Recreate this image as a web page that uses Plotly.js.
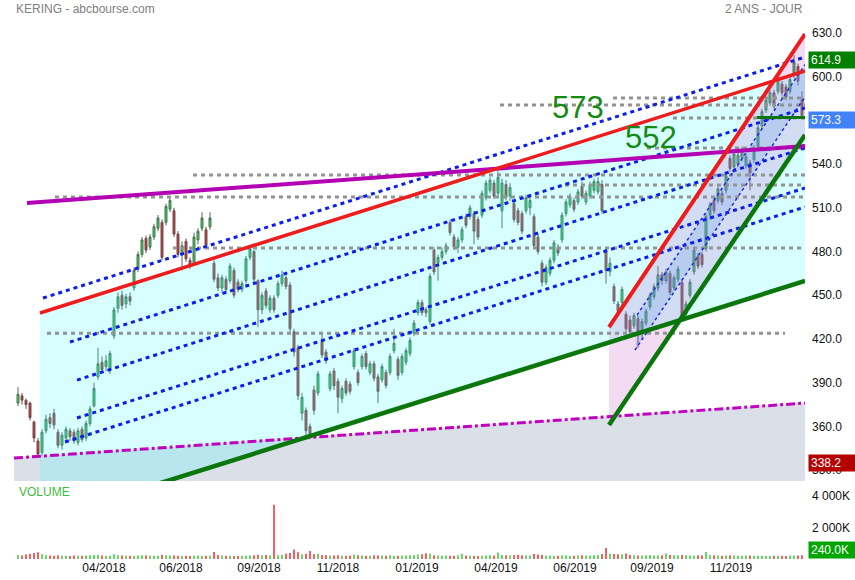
<!DOCTYPE html>
<html><head><meta charset="utf-8">
<script src="https://cdn.plot.ly/plotly-3.0.1.min.js"></script>
<style>html,body{margin:0;padding:0;background:#fff}#chart{width:855px;height:580px}</style>
</head><body><div id="chart"></div>
<script>
// ---- Data (bar index = trading-session sample) ----
const opens = [
376,381,378,376,363,350,342,357,366,369,
356,347,352,357,356,349,358,352,362,374,
394,404,401,399,422,441,450,444,449,455,
468,478,489,483,490,496,500,500,509,508,
492,478,487,474,472,488,496,495,497,472,
462,455,461,460,467,459,454,460,476,480,
460,440,453,440,448,450,458,462,457,425,
414,369,371,360,385,383,419,411,386,398,
391,379,391,389,401,397,401,410,397,403,
394,392,397,397,412,406,397,404,410,424,
438,445,440,432,481,472,476,480,500,490,
483,488,504,504,506,502,505,517,522,527,
520,508,526,518,513,508,506,508,510,504,
490,472,459,465,474,483,488,506,512,515,
514,525,514,518,522,521,526,480,466,456,
444,445,437,433,429,434,424,431,442,449,
455,464,460,465,455,461,459,437,450,466,
477,478,482,505,515,515,520,522,544,538,
540,544,539,541,543,552,566,577,582,589,
590,595,593,590,601,607,584];
const highs = [
387,383,379,377,364,352,358,368,369,372,
358,356,360,359,358,359,360,364,374,390,
414,408,409,412,442,452,453,451,452,469,
480,490,491,492,499,505,502,513,517,510,
494,487,489,476,493,496,507,497,507,474,
465,464,463,472,469,461,460,477,484,481,
461,452,455,450,450,460,467,466,459,427,
416,383,373,362,388,398,425,413,398,400,
393,388,393,391,414,399,410,412,405,405,
396,403,399,410,427,408,410,414,421,433,
447,447,442,465,483,478,483,486,502,492,
490,497,506,512,508,504,522,529,531,529,
535,530,529,527,515,510,508,519,518,506,
492,474,471,476,488,485,507,516,520,517,
523,528,522,528,530,531,529,482,476,458,
446,456,439,436,438,436,434,441,452,458,
470,466,468,467,464,470,461,446,461,483,
479,480,506,514,517,525,522,534,546,549,
548,552,547,543,553,567,578,586,591,591,
600,597,595,600,614.9,609,590];
const lows = [
374,375,372,364,349,338.2,339,355,359,358,
345,344,349,350,348,347,349,350,360,373,
392,397,398,396,420,438,440,441,443,453,
466,476,479,481,488,494,474,498,507,490,
476,467,473,468,470,485,494,482,495,459,
453,452,452,458,448,452,452,458,474,459,
428,437,441,438,438,448,456,454,425,408,
378,364,354,352,368,381,407,403,384,385,
369,376,381,382,399,388,399,399,395,391,
376,390,386,395,410,392,395,402,408,422,
436,436,435,430,464,460,474,478,491,481,
479,486,496,502,485,488,503,515,520,516,
518,496,515,515,500,498,492,506,505,482,
478,456,457,463,472,477,486,504,510,507,
512,516,512,516,520,519,506,458,463,444,
437,443,425,423,427,414,420,429,440,447,
453,457,458,450,453,459,433,435,448,464,
468,469,480,502,506,513,512,520,535,536,
538,542,537,522,541,550,564,575,580,578,
588,587,584,588,599,594,571];
const closes = [
382,378,375,366,352,341,356,365,362,361,
347,354,358,353,350,357,351,362,372,386,
403,399,405,410,440,449,443,449,446,467,
478,488,481,490,497,503,476,511,515,492,
478,484,475,470,490,494,503,484,503,461,
455,462,454,470,450,454,458,475,482,461,
440,450,443,448,440,458,464,456,427,411,
381,380,357,354,371,396,409,405,396,388,
380,386,383,384,412,390,408,401,403,393,
384,401,388,408,417,395,408,412,419,431,
445,438,438,463,466,476,480,484,493,483,
488,495,498,510,494,490,520,527,529,518,
531,527,517,524,502,500,494,517,515,484,
480,459,469,474,486,479,505,514,518,509,
521,518,520,526,528,528,508,467,472,446,
439,454,427,425,436,425,432,439,450,456,
464,460,466,452,462,468,436,444,459,481,
470,471,504,512,508,523,514,532,537,547,
546,550,545,534,551,565,576,584,589,580,
598,589,586,598,610,597,573.3];
const volumesK = [
260,220,280,340,380,430,300,240,220,210,
240,210,200,190,220,210,200,220,240,250,
270,230,210,200,300,240,220,210,200,210,
220,240,230,210,200,210,270,240,220,230,
210,200,200,190,210,220,210,200,220,450,
250,230,210,200,190,210,200,210,220,240,
270,240,250,230,3450,240,250,340,380,600,
430,300,330,510,300,330,260,240,230,220,
240,210,200,220,280,240,220,200,210,240,
220,230,210,240,210,200,220,230,240,250,
290,300,370,330,240,220,210,230,200,210,
240,330,220,200,210,190,200,220,240,230,
410,250,240,220,250,270,240,230,220,320,
290,250,230,220,210,200,240,220,210,200,
220,240,230,220,240,250,320,700,330,320,
300,280,350,250,240,220,230,240,250,220,
230,240,350,250,240,230,260,240,230,220,
240,230,450,250,240,220,210,230,240,220,
210,200,230,220,210,200,210,190,200,210,
200,210,190,220,230,220,240];
const tickPositions = [21.5,40.75,60.25,80,99.75,119.5,139.25,158.5,178.25];
const tickLabels = ['04/2018','06/2018','09/2018','11/2018','01/2019','04/2019','06/2019','09/2019','11/2019'];
const priceTicks = [330,360,390,420,450,480,510,540,570,600,630];
const volumeTicks = [2000,4000];
const volumeTickLabels = ['2 000K','4 000K'];

// drawn lines: [[barIndex, price], [barIndex, price]]
const magentaResistance = [[2.25,513.3],[196.75,552.4]];
const redChannelTop = [[5.5,437.8],[196.75,603.9]];
const redSteep = [[147.75,428.2],[196.75,629.3]];
const greenChannelBottom = [[5.5,295.2],[196.75,459.8]];
const greenSteep = [[147.75,360.9],[196.75,560]];
const greenLevel = [[184.75,572],[196.75,572]];
const dashDotSupport = [[-1,338.3],[196.75,376]];
const blueA = [[6.25,448.1],[196.75,613.5]];
const blueB = [[13,417.9],[196.75,578.5]];
const blueC = [[14.75,391.8],[196.75,551.1]];
const blueD = [[14.75,365.8],[196.75,523.6]];
const blueE = [[11.75,349.3],[196.75,510.6]];
const thinBlueUpper = [[154.75,436.4],[196.75,608.3]];
const thinBlueLower = [[154.25,412.4],[196.75,586.1]];
// gray dotted levels: price, start index, end index
const grayLevelPrices = [585.4,580.6,571.7,551.0,532.5,525.7,517.4,482.4,424.0];
const grayLevelStarts = [148.75,120.5,163.75,157.25,43.75,136.75,9.25,38.75,7.25];
const grayLevelEnds = [196.75,196.75,196.75,196.75,196.75,196.75,196.75,196.75,191.75];
const labelLevels = ['573','552'];
const labelPos = [[140,579.2],[158.25,558.6]];
const lastClose = 573.3, periodHigh = 614.9, periodLow = 338.2, lastVolumeK = 240;

const idx = opens.map((_, i) => i);
const FONT = 'Liberation Sans, Arial, sans-serif';
const traces = [];
function poly(pts, color){
  traces.push({x: pts.map(p=>p[0]), y: pts.map(p=>p[1]), mode:'lines', fill:'toself',
    fillcolor: color, line:{width:0}, hoverinfo:'skip', showlegend:false});
}
function seg(pts, color, width, dash){
  traces.push({x: pts.map(p=>p[0]), y: pts.map(p=>p[1]), mode:'lines',
    line:{color, width, dash: dash||'solid'}, hoverinfo:'skip', showlegend:false});
}
// fills
poly([[dashDotSupport[0][0],dashDotSupport[0][1]],[dashDotSupport[1][0],dashDotSupport[1][1]],[dashDotSupport[1][0],300],[dashDotSupport[0][0],300]], '#dadfe8');
poly([redChannelTop[0],redChannelTop[1],greenChannelBottom[1],greenChannelBottom[0]], 'rgba(55,255,255,0.2)');
poly([redSteep[0],redSteep[1],greenSteep[1],greenSteep[0]], 'rgba(190,60,190,0.18)');
poly([thinBlueUpper[0],thinBlueUpper[1],thinBlueLower[1],thinBlueLower[0]], 'rgba(80,140,230,0.2)');
// gray dotted levels
grayLevelPrices.forEach((p,k)=>seg([[grayLevelStarts[k],p],[grayLevelEnds[k],p]], '#939393', 3, '4px,4px'));
// blue dotted parallels
[blueA,blueB,blueC,blueD,blueE].forEach(l=>seg(l,'#0a1ef0',3,'4px,4px'));
seg(thinBlueUpper,'#1a2ae0',1.5,'3px,3px');
seg(thinBlueLower,'#1a2ae0',1.5,'3px,3px');
seg(dashDotSupport,'#c000c0',3,'9px,3px,3px,3px');
seg(magentaResistance,'#b400b4',4);
seg(redChannelTop,'#ee1c1c',3.5);
seg(redSteep,'#ee1c1c',4);
seg(greenChannelBottom,'#0b760b',4.5);
seg(greenSteep,'#0b760b',4.5);
seg(greenLevel,'#0b760b',3);

traces.push({type:'candlestick', x: idx, open: opens, high: highs, low: lows, close: closes,
  increasing:{line:{color:'#4d6a55',width:1}, fillcolor:'#22e34a'},
  decreasing:{line:{color:'#6a4d4d',width:1}, fillcolor:'#d23434'},
  hoverinfo:'skip', showlegend:false, xaxis:'x', yaxis:'y'});
traces.push({type:'bar', x: idx, y: volumesK, yaxis:'y2', xaxis:'x', width:0.4,
  marker:{color: closes.map((c,i)=> c>=opens[i] ? '#3ecf3e' : '#ee3b3b'), line:{width:0}},
  hoverinfo:'skip', showlegend:false});

const annotations = [
  {xref:'paper', yref:'paper', x:0, y:1.0204, xanchor:'left', yanchor:'middle', showarrow:false,
   text:'KERING - abcbourse.com', font:{family:FONT, size:12, color:'#808080'}},
  {xref:'paper', yref:'paper', x:1, y:1.0204, xanchor:'right', yanchor:'middle', showarrow:false,
   text:'2 ANS - JOUR', font:{family:FONT, size:12, color:'#808080'}},
  {xref:'paper', yref:'y2', x:0.004, y:4250, xanchor:'left', yanchor:'middle', showarrow:false,
   text:'VOLUME', font:{family:FONT, size:12, color:'#3dbb3d'}},
];
labelLevels.forEach((t,k)=>annotations.push({xref:'x', yref:'y', x:labelPos[k][0], y:labelPos[k][1],
  showarrow:false, text:t, font:{family:FONT, size:31, color:'#138a13'}}));
function box(yref, val, txt, bg, shift){
  annotations.push({xref:'paper', yref, x:1, y:val, xanchor:'left', yanchor:'middle', xshift:3, yshift:shift,
    showarrow:false, text:txt, bgcolor:bg, width:43, height:12, borderpad:2, align:'left',
    font:{family:FONT, size:12, color:'#ffffff'}});
}
box('y', periodHigh, periodHigh.toFixed(1), '#008000', -4.5);
box('y', lastClose, lastClose.toFixed(1), '#4182f8', -4.5);
box('y', periodLow, periodLow.toFixed(1), '#b40000', -4.5);
box('y2', lastVolumeK, lastVolumeK.toFixed(1)+'K', '#00a600', 5.5);

const layout = {
  width:855, height:580, margin:{l:14, r:50, t:20, b:21},
  paper_bgcolor:'#ffffff', plot_bgcolor:'#ffffff', showlegend:false, hovermode:false,
  font:{family:FONT, size:12, color:'#111'},
  xaxis:{range:[-1,196.75], anchor:'y2', tickvals:tickPositions, ticktext:tickLabels, showgrid:false,
    zeroline:false, showline:false, ticks:'', rangeslider:{visible:false}, tickfont:{size:12, color:'#111'}},
  yaxis:{domain:[0.1447,1], range:[322.52,638.92], side:'right', tickvals:priceTicks, tickformat:'.1f',
    showgrid:false, zeroline:false, showline:false, ticks:'', ticklabelstandoff:6, tickfont:{size:12, color:'#111'}},
  yaxis2:{domain:[0,0.1336], range:[0,4571], side:'right', tickvals:volumeTicks, ticktext:volumeTickLabels,
    showgrid:false, zeroline:false, showline:false, ticks:'', ticklabelstandoff:6, tickfont:{size:12, color:'#111'}},
  annotations
};
Plotly.newPlot('chart', traces, layout, {staticPlot:true, displayModeBar:false});
</script></body></html>
